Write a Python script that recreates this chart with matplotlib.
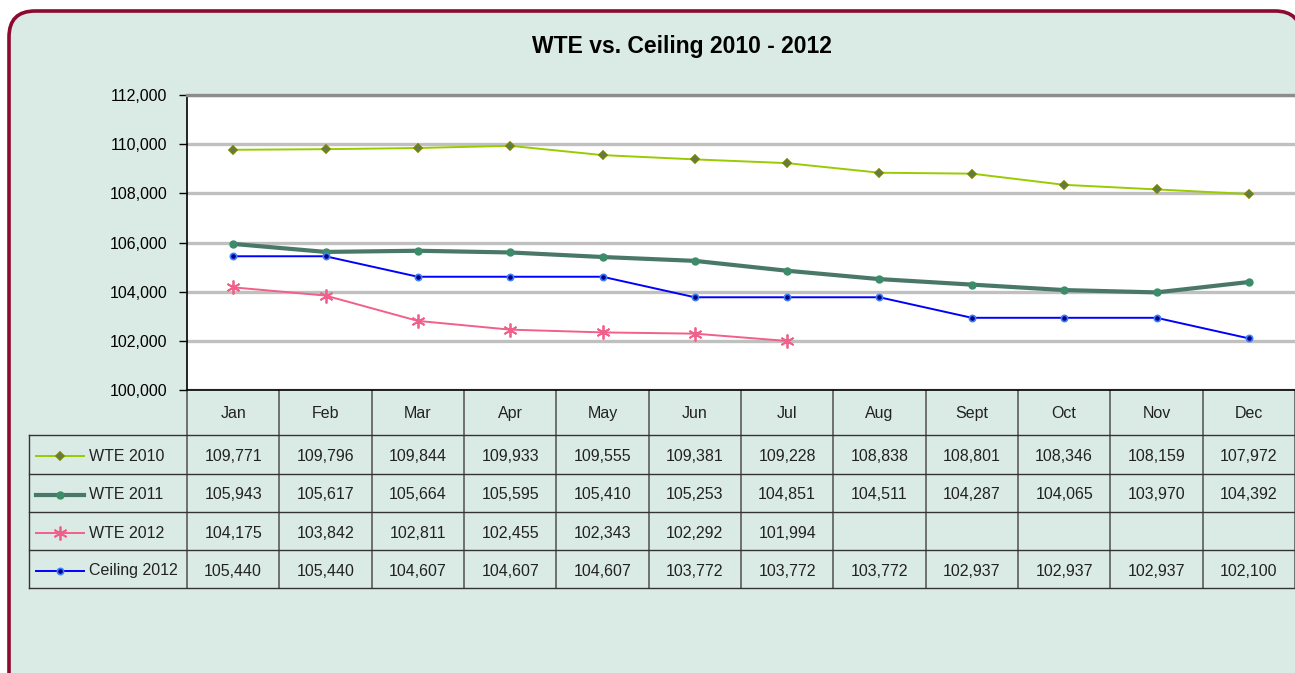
import matplotlib
matplotlib.use("Agg")
import matplotlib.pyplot as plt
import matplotlib.transforms as mtransforms
from matplotlib.patches import FancyBboxPatch
from matplotlib.lines import Line2D
from matplotlib.ticker import FuncFormatter

months = ['Jan', 'Feb', 'Mar', 'Apr', 'May', 'Jun', 'Jul', 'Aug', 'Sept', 'Oct', 'Nov', 'Dec']
wte_2010 = [109771, 109796, 109844, 109933, 109555, 109381, 109228, 108838, 108801, 108346, 108159, 107972]
wte_2011 = [105943, 105617, 105664, 105595, 105410, 105253, 104851, 104511, 104287, 104065, 103970, 104392]
wte_2012 = [104175, 103842, 102811, 102455, 102343, 102292, 101994]
ceiling_2012 = [105440, 105440, 104607, 104607, 104607, 103772, 103772, 103772, 102937, 102937, 102937, 102100]
series_names = ['WTE 2010', 'WTE 2011', 'WTE 2012', 'Ceiling 2012']
y_ticks = [100000, 102000, 104000, 106000, 108000, 110000, 112000]

plt.rcParams['font.family'] = ['Liberation Sans', 'DejaVu Sans']

W, H = 1295, 673
fig = plt.figure(figsize=(W / 100, H / 100), dpi=100, facecolor='white')

# pixel-space background layer
bg = fig.add_axes([0, 0, 1, 1], zorder=0)
bg.set_xlim(0, W)
bg.set_ylim(H, 0)
bg.axis('off')
bg.add_patch(FancyBboxPatch((9, 11), 1292, 690,
                            boxstyle='round,pad=0,rounding_size=26',
                            facecolor='#DAEAE4', edgecolor='#8B0A2E', linewidth=2.6))

bg.text(682, 46, 'WTE vs. Ceiling 2010 - 2012', ha='center', va='center',
        fontsize=16.5, fontweight='bold', color='black')

# plot area
left, top, bottom, right = 187, 95, 390, 1295
ax = fig.add_axes([left / W, (H - bottom) / H, (right - left) / W, (bottom - top) / H], zorder=1)
ax.set_facecolor('white')
ax.set_xlim(-0.5, 11.5)
ax.set_ylim(100000, 112000)
ax.set_yticks(y_ticks)
ax.yaxis.set_major_formatter(FuncFormatter(lambda v, p: f'{int(v):,}'))
ax.tick_params(axis='y', length=6, width=1, pad=8, labelsize=11.5, colors='black', direction='out')
ax.set_xticks([])
ax.grid(axis='y', color='#C0C0C0', linewidth=2.4)
ax.set_axisbelow(True)
ax.spines['right'].set_visible(False)
ax.spines['top'].set_color('#8C8C8C')
ax.spines['top'].set_linewidth(2.4)
ax.spines['left'].set_color('black')
ax.spines['bottom'].set_color('black')
ax.spines['left'].set_linewidth(1.2)
ax.spines['bottom'].set_linewidth(1.2)

x = list(range(len(months)))
styles = [
    dict(color='#99CC00', lw=1.4, marker='D', ms=4.5, mfc='#4F7F5F', mec='#808000', mew=1.2),
    dict(color='#4A7868', lw=3.0, marker='o', ms=5, mfc='#3C8C6A', mec='#3C8C6A'),
    dict(color='#F0608A', lw=1.4, marker=(6, 2, 0), ms=10, mec='#F0608A', mew=1.3),
    dict(color='#0000FF', lw=1.4, marker='o', ms=4.5, mfc='#000080', mec='#3F7FFF', mew=1.2),
]
data = [wte_2010, wte_2011, wte_2012, ceiling_2012]
for vals, st in zip(data, styles):
    ax.plot(x[:len(vals)], vals, clip_on=False, zorder=3, **st)

# data table under the plot
tr = mtransforms.blended_transform_factory(ax.transData, bg.transData)
row_edges = [435, 473.5, 512, 550, 588]
line_col = '#333333'
for i in range(len(months) + 1):
    bg.add_line(Line2D([i - 0.5, i - 0.5], [bottom, row_edges[-1]], transform=tr,
                       color='#505050', lw=1.1, clip_on=False))
for yy in row_edges:
    bg.plot([29, W], [yy, yy], color=line_col, lw=1.0)
bg.plot([29, 29], [row_edges[0], row_edges[-1]], color=line_col, lw=1.0)

for i, m in enumerate(months):
    bg.text(i, (bottom + row_edges[0]) / 2 + 1, m, transform=tr, ha='center', va='center',
            fontsize=11.5, color='#222222')

for r, (name, vals, st) in enumerate(zip(series_names, data, styles)):
    yc = (row_edges[r] + row_edges[r + 1]) / 2
    bg.plot([36, 84], [yc + 2, yc + 2], color=st['color'], lw=st['lw'])
    mk = {k: v for k, v in st.items() if k not in ('color', 'lw')}
    bg.plot([60], [yc + 2], color=st['color'], **mk)
    bg.text(89, yc + 2, name, ha='left', va='center', fontsize=11.5, color='#222222')
    for i, v in enumerate(vals):
        bg.text(i, yc + 2, f'{v:,}', transform=tr, ha='center', va='center',
                fontsize=11.5, color='#222222')

fig.savefig('out.png', dpi=100, facecolor='white')
